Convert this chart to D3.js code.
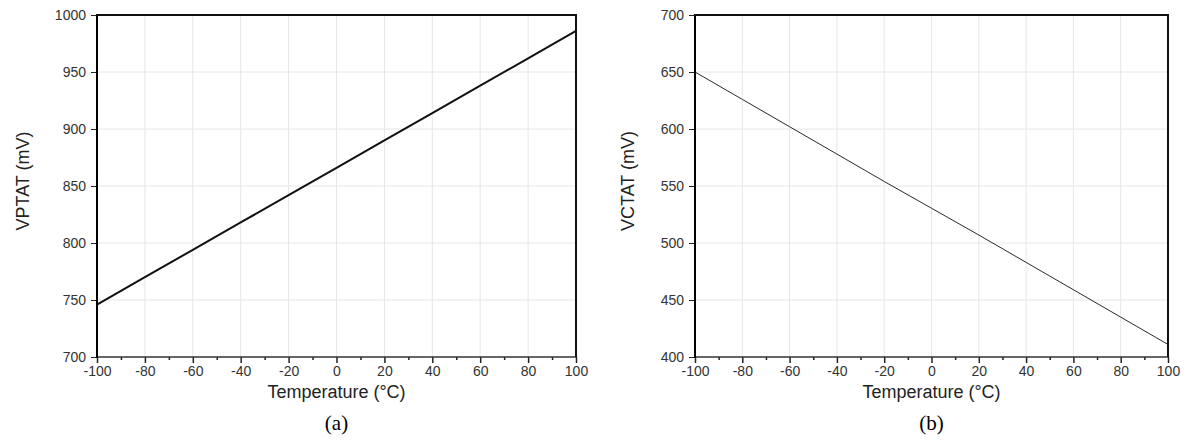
<!DOCTYPE html>
<html>
<head>
<meta charset="utf-8">
<script src="https://cdn.jsdelivr.net/npm/d3@7"></script>
<style>
  html, body { margin: 0; padding: 0; background: #fff; }
  svg { display: block; }
</style>
</head>
<body>
<svg id="chart" width="1190" height="448"></svg>
<script>
// ---- Data ----
const temperature = [-100, -80, -60, -40, -20, 0, 20, 40, 60, 80, 100];
const vptat = [746, 770, 794, 818, 842, 866, 890, 914, 938, 962, 986];
const vctat = [650, 626, 602, 578, 554, 530.5, 507, 483, 459, 435, 411];
const xTicks = [-100, -80, -60, -40, -20, 0, 20, 40, 60, 80, 100];
const xMinorTicks = [-90, -70, -50, -30, -10, 10, 30, 50, 70, 90];
const yTicksA = [700, 750, 800, 850, 900, 950, 1000];
const yTicksB = [400, 450, 500, 550, 600, 650, 700];
const xTitle = "Temperature (°C)";
const yTitleA = "VPTAT (mV)";
const yTitleB = "VCTAT (mV)";
const captions = ["(a)", "(b)"];

const svg = d3.select("#chart");

const panels = [
  { left: 97, right: 576, top: 15, bottom: 357, y: vptat, yDomain: [700, 1000], yTicks: yTicksA, yTitle: yTitleA, yTitleX: 22, caption: captions[0], lw: 2 },
  { left: 695, right: 1168, top: 15, bottom: 357, y: vctat, yDomain: [400, 700], yTicks: yTicksB, yTitle: yTitleB, yTitleX: 627, caption: captions[1], lw: 0.9 }
];

const font = '"Liberation Sans", Arial, sans-serif';
const fmt = d => String(d);

panels.forEach(p => {
  const x = d3.scaleLinear().domain([-100, 100]).range([p.left, p.right]);
  const y = d3.scaleLinear().domain(p.yDomain).range([p.bottom, p.top]);
  const g = svg.append("g");

  // gridlines
  g.append("g").selectAll("line").data(xTicks.slice(1, -1)).join("line")
    .attr("x1", d => x(d)).attr("x2", d => x(d))
    .attr("y1", p.top).attr("y2", p.bottom)
    .attr("stroke", "#e6e6e6").attr("stroke-width", 1);
  g.append("g").selectAll("line").data(p.yTicks.slice(1, -1)).join("line")
    .attr("x1", p.left).attr("x2", p.right)
    .attr("y1", d => y(d)).attr("y2", d => y(d))
    .attr("stroke", "#e6e6e6").attr("stroke-width", 1);

  // data line
  const line = d3.line().x((d, i) => x(temperature[i])).y(d => y(d));
  g.append("path").datum(p.y)
    .attr("d", line).attr("fill", "none")
    .attr("stroke", "#111").attr("stroke-width", p.lw);

  // x axis (bottom)
  const xAxis = g.append("g").attr("transform", `translate(0,${p.bottom})`)
    .call(d3.axisBottom(x).tickValues(xTicks).tickSize(6).tickPadding(3).tickFormat(fmt));
  xAxis.select(".domain").remove();
  xAxis.selectAll(".tick line").attr("stroke", "#222").attr("stroke-width", 1.5);
  xAxis.selectAll(".tick text").attr("font-size", 14).attr("fill", "#333").attr("font-family", font);
  const xMinor = g.append("g").attr("transform", `translate(0,${p.bottom})`)
    .call(d3.axisBottom(x).tickValues(xMinorTicks).tickSize(3).tickFormat(""));
  xMinor.select(".domain").remove();
  xMinor.selectAll(".tick line").attr("stroke", "#222").attr("stroke-width", 1.5);

  // y axis (left)
  const yAxis = g.append("g").attr("transform", `translate(${p.left},0)`)
    .call(d3.axisLeft(y).tickValues(p.yTicks).tickSize(6).tickPadding(5).tickFormat(fmt));
  yAxis.select(".domain").remove();
  yAxis.selectAll(".tick line").attr("stroke", "#222").attr("stroke-width", 1);
  yAxis.selectAll(".tick text").attr("font-size", 14).attr("fill", "#333").attr("font-family", font);

  // frame
  g.append("line").attr("x1", p.left).attr("x2", p.right).attr("y1", p.bottom).attr("y2", p.bottom)
    .attr("stroke", "#333").attr("stroke-width", 1.5);
  g.append("line").attr("x1", p.left).attr("x2", p.left).attr("y1", p.top).attr("y2", p.bottom + 1)
    .attr("stroke", "#000").attr("stroke-width", 2);
  g.append("line").attr("x1", p.left - 1).attr("x2", p.right + 1).attr("y1", p.top).attr("y2", p.top)
    .attr("stroke", "#111").attr("stroke-width", 2);
  g.append("line").attr("x1", p.right).attr("x2", p.right).attr("y1", p.top).attr("y2", p.bottom)
    .attr("stroke", "#111").attr("stroke-width", 2);

  // titles
  g.append("text").attr("x", (p.left + p.right) / 2).attr("y", 398)
    .attr("text-anchor", "middle").attr("font-size", 18).attr("fill", "#222")
    .attr("font-family", font).text(xTitle);
  g.append("text")
    .attr("transform", `translate(${p.yTitleX + 6.5},${(p.top + p.bottom) / 2 - 5}) rotate(-90)`)
    .attr("text-anchor", "middle").attr("font-size", 18).attr("fill", "#222")
    .attr("font-family", font).text(p.yTitle);
  g.append("text").attr("x", (p.left + p.right) / 2).attr("y", 430)
    .attr("text-anchor", "middle").attr("font-size", 21).attr("fill", "#000")
    .attr("font-family", '"Liberation Serif", "Times New Roman", serif').text(p.caption);
});
</script>
</body>
</html>
